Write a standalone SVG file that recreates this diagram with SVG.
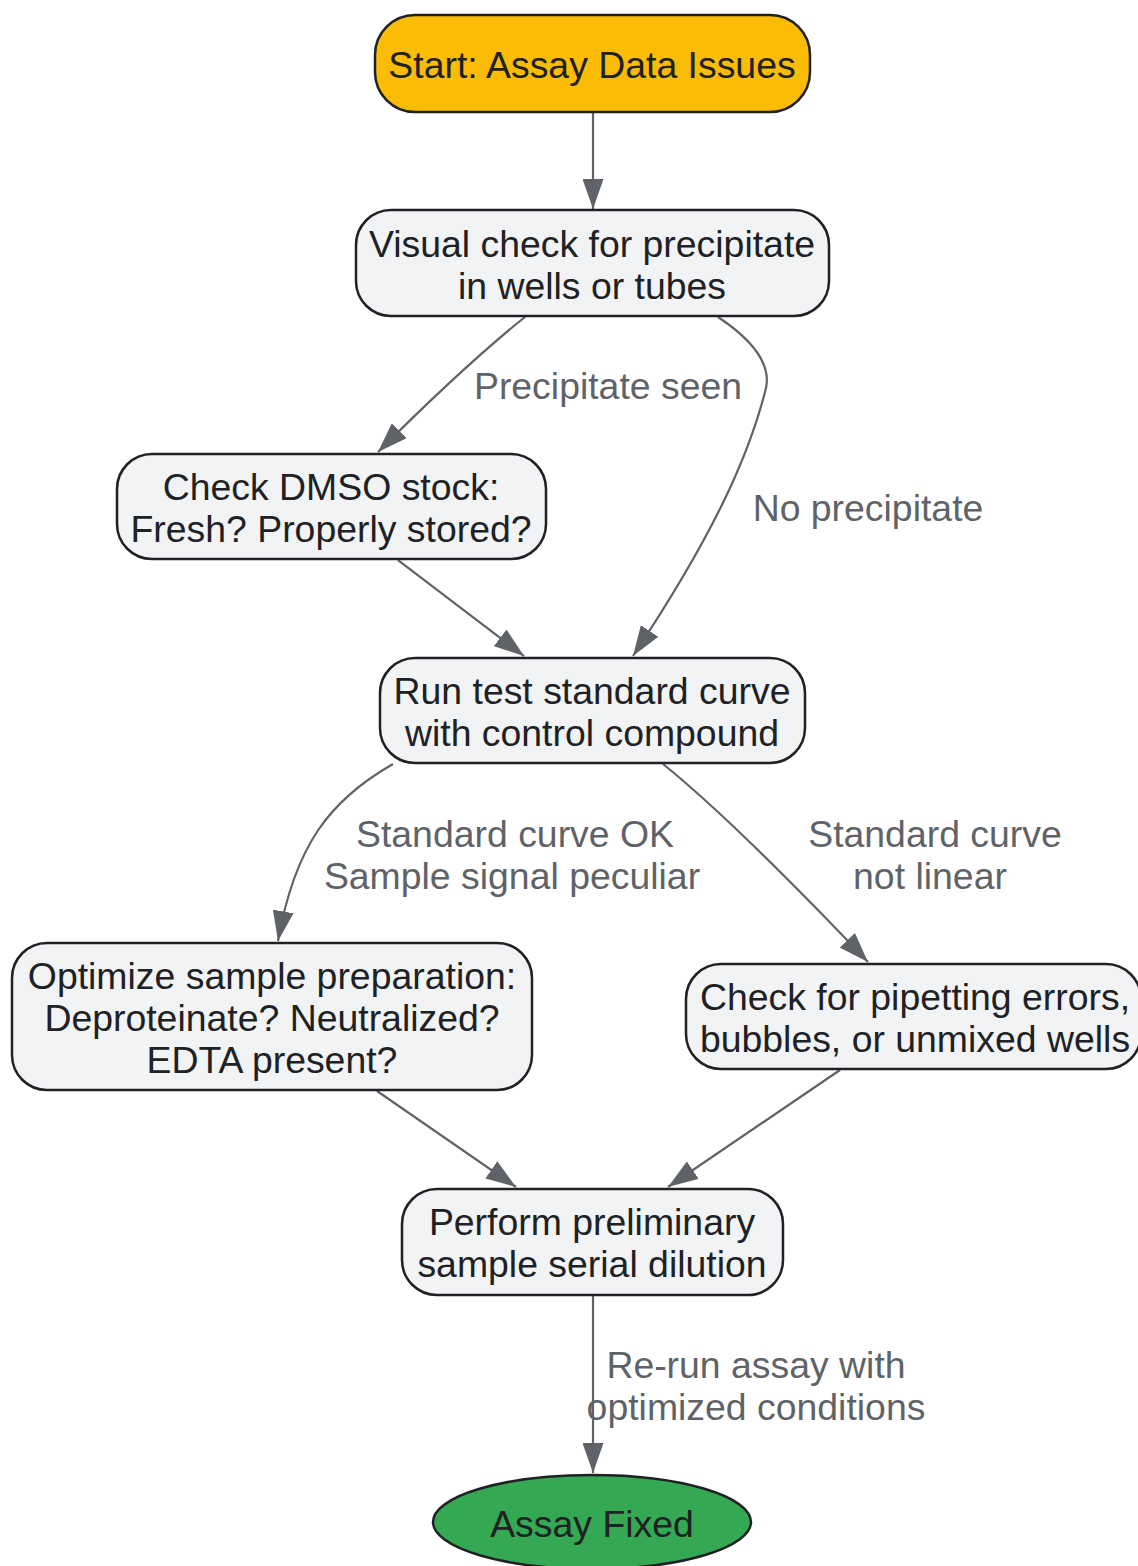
<svg xmlns="http://www.w3.org/2000/svg" width="1138" height="1566" viewBox="0 0 1138 1566">
<style>
.node rect, .node ellipse { stroke: #202124; stroke-width: 2.5; }
.box { fill: #F1F3F4; }
.nt { font-family: "Liberation Sans", Arial, sans-serif; font-size: 37.4px; fill: #202124; text-anchor: middle; }
.lt { font-family: "Liberation Sans", Arial, sans-serif; font-size: 37.4px; fill: #5F6368; text-anchor: middle; }
.edge { fill: none; stroke: #5F6368; stroke-width: 2.2; marker-end: url(#arr); }
</style>
<defs>
<marker id="arr" viewBox="0 0 30 21" refX="30" refY="10.5" markerWidth="30" markerHeight="21" markerUnits="userSpaceOnUse" orient="auto">
<path d="M0 0 L30 10.5 L0 21 Z" fill="#5F6368"/>
</marker>
</defs>
<rect width="1138" height="1566" fill="#FFFFFF"/>
<g id="edges">
<path class="edge" d="M593 112 L593 209"/>
<path class="edge" d="M525 317 C 490 345, 440 390, 378 452"/>
<path class="edge" d="M718 317 C 745 335, 772 360, 766 388 C 748 460, 710 540, 633 656"/>
<path class="edge" d="M398 560 L524 656"/>
<path class="edge" d="M393 764 C 330 800, 295 845, 278 941"/>
<path class="edge" d="M663 764 C 720 810, 790 880, 868 962"/>
<path class="edge" d="M377 1091 L516 1187"/>
<path class="edge" d="M840 1070 L668 1187"/>
<path class="edge" d="M593 1295 L593 1473"/>
<text class="lt" x="608" y="399">Precipitate seen</text>
<text class="lt" x="868" y="521">No precipitate</text>
<text class="lt" x="515" y="847">Standard curve OK</text>
<text class="lt" x="512" y="889">Sample signal peculiar</text>
<text class="lt" x="935" y="847">Standard curve</text>
<text class="lt" x="930" y="889">not linear</text>
<text class="lt" x="756" y="1378">Re-run assay with</text>
<text class="lt" x="756" y="1420">optimized conditions</text>
</g>
<g id="start" class="node">
<rect x="375" y="15" width="435" height="97" rx="40" fill="#FBBC05"/>
<text class="nt" x="592" y="78">Start: Assay Data Issues</text>
</g>
<g id="visual" class="node">
<rect class="box" x="356" y="210" width="473" height="106" rx="35"/>
<text class="nt" x="592" y="257">Visual check for precipitate</text>
<text class="nt" x="592" y="299">in wells or tubes</text>
</g>
<g id="dmso" class="node">
<rect class="box" x="117" y="454" width="429" height="105" rx="35"/>
<text class="nt" x="331" y="500">Check DMSO stock:</text>
<text class="nt" x="331" y="542">Fresh? Properly stored?</text>
</g>
<g id="run" class="node">
<rect class="box" x="380" y="658" width="425" height="105" rx="35"/>
<text class="nt" x="592" y="704">Run test standard curve</text>
<text class="nt" x="592" y="746">with control compound</text>
</g>
<g id="optimize" class="node">
<rect class="box" x="12" y="943" width="520" height="147" rx="35"/>
<text class="nt" x="272" y="989">Optimize sample preparation:</text>
<text class="nt" x="272" y="1031">Deproteinate? Neutralized?</text>
<text class="nt" x="272" y="1073">EDTA present?</text>
</g>
<g id="pipetting" class="node">
<rect class="box" x="686" y="964" width="455" height="105" rx="35"/>
<text class="nt" x="915" y="1010">Check for pipetting errors,</text>
<text class="nt" x="915" y="1052">bubbles, or unmixed wells</text>
</g>
<g id="perform" class="node">
<rect class="box" x="402" y="1189" width="381" height="106" rx="35"/>
<text class="nt" x="592" y="1235">Perform preliminary</text>
<text class="nt" x="592" y="1277">sample serial dilution</text>
</g>
<g id="fixed" class="node">
<ellipse cx="592" cy="1522" rx="159" ry="47" fill="#34A853"/>
<text class="nt" x="592" y="1537">Assay Fixed</text>
</g>
</svg>
